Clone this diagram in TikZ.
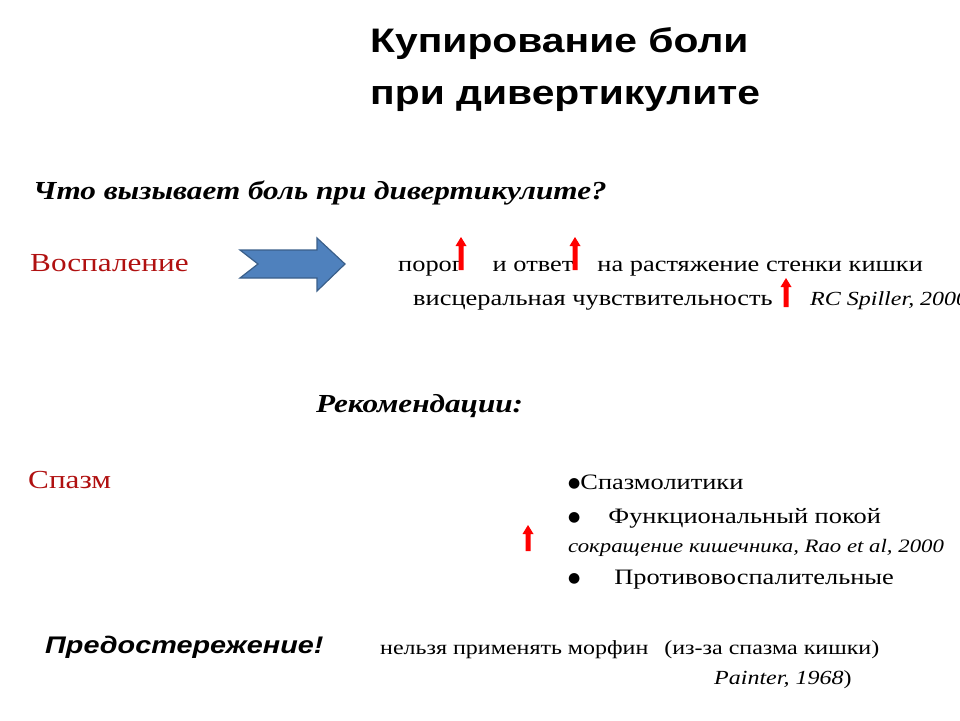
\documentclass[tikz,border=0pt]{standalone}
\usepackage{fontspec}
\setmainfont[FakeStretch=1.2]{Liberation Serif}
\setsansfont[FakeStretch=1.2]{Liberation Sans}
\newfontfamily\symfont{DejaVu Sans}
\usetikzlibrary{positioning}
\usetikzlibrary{calc}
\definecolor{darkred}{HTML}{B01010}
\definecolor{arrowblue}{HTML}{4F81BD}
\definecolor{arrowedge}{HTML}{3A5F8A}
\tikzset{
  txt/.style={anchor=base west, inner sep=0pt, font=\fontsize{22}{24}\selectfont},
  cite/.style={txt, font=\fontsize{19}{22}\selectfont\itshape},
  head/.style={txt, font=\fontsize{26}{28}\selectfont\bfseries\itshape},
  cause/.style={txt, text=darkred, font=\fontsize{26}{28}\selectfont}
}
% small red up arrow: bottom point, height
\newcommand{\uparr}[2]{%
  \fill[red] ($#1+(-2.5,0)$) -- ++(0,-#2+9) -- ++(-3,0) -- ++(5.5,-9) -- ++(5.5,9) -- ++(-3,0) -- ++(0,#2-9) -- cycle;}
\newcommand{\bul}{\raisebox{2pt}{\symfont\fontsize{14}{14}\selectfont ●}}
\begin{document}
\begin{tikzpicture}[x=1pt,y=-1pt]
  \useasboundingbox (0,0) rectangle (960,720);

  % Title
  \node[txt, font=\fontsize{34}{40}\selectfont\sffamily\bfseries] (title1) at (370,52) {Купирование боли};
  \node[txt, font=\fontsize{34}{40}\selectfont\sffamily\bfseries] (title2) at (370,104) {при дивертикулите};

  \node[head] (question) at (33,199) {Что вызывает боль при дивертикулите?};

  % Inflammation
  \node[cause] (inflam) at (30,271) {Воспаление};
  \draw[arrowedge, fill=arrowblue, line width=1.2pt]
    (240,250) -- (317,250) -- (317,238) -- (345,264) -- (317,291) -- (317,278)
    -- (240,278) -- (258,264) -- cycle;
  \node[txt] (threshold) at (398,271) {порог\hspace{30pt}и ответ\hspace{24pt}на растяжение стенки кишки};
  \node[txt] (visceral) at (413,305) {висцеральная чувствительность};
  \node[cite, font=\fontsize{20}{22}\selectfont\itshape] (spiller) at (810,305) {RC Spiller, 2000};
  \uparr{(461,270)}{33}
  \uparr{(575,270)}{33}
  \uparr{(786,307)}{29}

  \node[head] (recommend) at (316,412) {Рекомендации:};

  % Spasm
  \node[cause] (spasm) at (28,488) {Спазм};
  \node[txt] (item1) at (568,489) {\bul Спазмолитики};
  \node[txt] (item2) at (568,523) {\bul\hspace{28pt}Функциональный покой};
  \node[cite] (rao) at (568,552) {сокращение кишечника, Rao et al, 2000};
  \node[txt] (item3) at (568,584) {\bul\hspace{34pt}Противовоспалительные};
  \uparr{(528,551)}{26}

  % Warning
  \node[txt, font=\fontsize{24}{28}\selectfont\sffamily\bfseries\itshape] (warning) at (45,653) {Предостережение!};
  \node[txt, font=\fontsize{20}{22}\selectfont] (morphine) at (380,654) {нельзя применять морфин\hspace{16pt}(из-за спазма кишки)};
  \node[txt, font=\fontsize{20}{22}\selectfont] (painter) at (714,684) {\textit{Painter, 1968})};
\end{tikzpicture}
\end{document}
